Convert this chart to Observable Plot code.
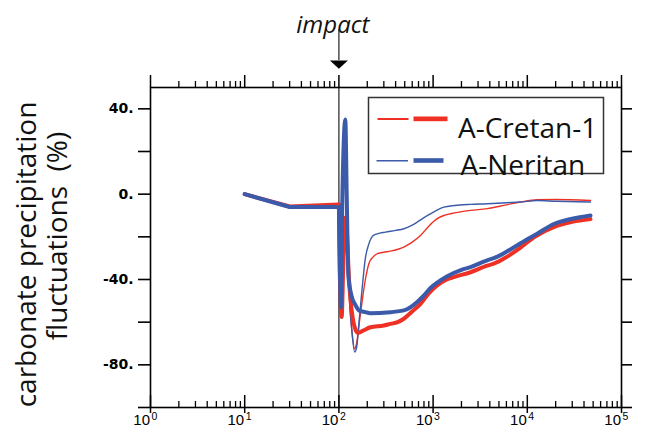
<!DOCTYPE html>
<html><head><meta charset="utf-8">
<script src="https://cdn.jsdelivr.net/npm/d3@7"></script>
<script src="https://cdn.jsdelivr.net/npm/@observablehq/plot@0.6"></script>
<style>body{margin:0;background:#fff}</style>
</head><body><div id="chart"></div>
<script>
// ---- data (time after start, log axis; carbonate precipitation fluctuation %) ----
const seriesNames = ["A-Cretan-1", "A-Neritan"];
const seriesColors = ["#ee3124", "#3b5aa9"];
const impactTime = 100;

const cretanThinT = [10,30,100,102,107,111,116,120,128,138,147,154,165,177,191,208,230,260,300,353,489,600,735,900,1106,1300,1531,2500,3753,6000,8470,12740,20000,46900];
const cretanThinV = [0,-5.8,-4.8,-35,-55,-35,-11,-15,-45,-65,-72.5,-70,-60,-49.8,-40,-32.6,-29.5,-27.8,-27.2,-26.7,-24.8,-22.5,-19.4,-15,-11.5,-10,-9.2,-7.6,-6.8,-5,-3.7,-2.6,-2.5,-3];

const cretanThickT = [10,30,100,102,107,111,116,120,128,140,150,160,180,216,300,353,420,489,600,735,900,1106,1400,1660,2495,3753,4409,6000,8470,12000,19100,30000,46900];
const cretanThickV = [0,-5.8,-4.8,-35,-57.6,-35,-11,-14,-40,-58,-63.5,-65,-64,-62.4,-61.6,-60.8,-60,-58.4,-55,-51.4,-46.5,-42.8,-40,-38.9,-36.6,-33.5,-32.6,-29.5,-25,-20,-15.5,-13,-11.7];

const neritanThinT = [10,30,100,102,106,110,117,121,127,138,147,154,165,177,191,208,230,255,312,400,489,600,678,800,938,1100,1300,1700,2495,3753,6000,8470,12740,20000,46900];
const neritanThinV = [0,-6,-6,-30,-52,0,33,0,-40,-65,-74,-72,-58,-43.6,-30,-23.3,-19.5,-18.6,-17.8,-17,-16.2,-14.5,-13.1,-11,-9.2,-7.5,-6.1,-5.3,-4.8,-4.5,-4,-3.7,-3,-3.3,-3.7];

const neritanThickT = [10,30,100,102,105,109,117,121,126,135,150,163,191,216,353,489,575,678,800,938,1106,1413,2000,2495,3753,4409,6000,8470,12740,19100,30000,46900];
const neritanThickV = [0,-6,-6,-30,-53,0,35,0,-38,-47,-52,-54.5,-55.3,-55.8,-55.3,-54.5,-53,-50.5,-47.5,-44,-41.5,-38.5,-35.5,-34.2,-31,-30,-27,-23,-18.5,-14,-11.5,-10];

// ---- axis definitions ----
const xDecades = [0,1,2,3,4,5];
const yTicks = [-100,-80,-60,-40,-20,0,20,40];
const yTickLabels = [40,0,-40,-80];
const yTitleLines = ["carbonate precipitation", "fluctuations\u00a0 (%)"];
const annotation = "impact";

// ---- build tables ----
const curves = [
  {name: seriesNames[0], color: seriesColors[0], w: 1.4, t: cretanThinT, v: cretanThinV},
  {name: seriesNames[1], color: seriesColors[1], w: 1.4, t: neritanThinT, v: neritanThinV},
  {name: seriesNames[0], color: seriesColors[0], w: 4, t: cretanThickT, v: cretanThickV},
  {name: seriesNames[1], color: seriesColors[1], w: 4, t: neritanThickT, v: neritanThickV}
];
const rows = c => c.t.map((t, i) => ({t, v: c.v[i]}));
const majors = xDecades.map(e => 10 ** e);
const minors = xDecades.slice(0, -1).flatMap(e => d3.range(2, 10).map(k => k * 10 ** e));

const W = 646, H = 443, ML = 150, MR = 25, MT = 87, MB = 36;
const FW = W - ML - MR, FH = H - MT - MB;

const wideTriangle = {draw(ctx) { ctx.moveTo(-9, -4); ctx.lineTo(9, -4); ctx.lineTo(0, 4.3); ctx.closePath(); }};

const sans = "'Open Sans', 'Noto Sans', sans-serif";
const narrow = "'Liberation Sans Narrow', 'Liberation Sans', Arial, sans-serif";

const marks = [
  Plot.frame({fill: "white"}),
  // impact line
  Plot.ruleX([impactTime], {stroke: "#222", strokeWidth: 1.2}),
  // data lines: straight segments before impact, smooth after
  ...curves.map(c => Plot.line(rows(c).filter(d => d.t <= impactTime), {
    x: "t", y: "v", stroke: c.color, strokeWidth: c.w, curve: "linear", strokeLinejoin: "round", strokeLinecap: "round"
  })),
  ...curves.map(c => Plot.line(rows(c).filter(d => d.t >= impactTime), {
    x: "t", y: "v", stroke: c.color, strokeWidth: c.w, curve: "monotone-x", strokeLinejoin: "round"
  })),
  Plot.frame({stroke: "black", strokeWidth: 1.6}),
  // top ticks (outward)
  Plot.tickX(majors, {x: d => d, insetTop: -12, insetBottom: FH, stroke: "black", strokeWidth: 1.5}),
  Plot.tickX(minors, {x: d => d, insetTop: -6, insetBottom: FH, stroke: "black", strokeWidth: 1.3}),
  // bottom ticks
  Plot.tickX(majors, {x: d => d, insetTop: FH - 12, insetBottom: -6, stroke: "black", strokeWidth: 1.5}),
  Plot.tickX(minors, {x: d => d, insetTop: FH - 6, insetBottom: 0, stroke: "black", strokeWidth: 1.3}),
  // left / right ticks
  Plot.tickY(yTicks, {y: d => d, insetLeft: -12, insetRight: FW, stroke: "black", strokeWidth: 1.6}),
  Plot.tickY(yTicks, {y: d => d, insetLeft: FW, insetRight: -11, stroke: "black", strokeWidth: 1.6}),
  // y tick labels
  Plot.text(yTickLabels, {y: d => d, text: d => d + ".", frameAnchor: "left", textAnchor: "end", dx: -17,
    fontFamily: "'DejaVu Sans', sans-serif", fontWeight: "bold", fontSize: 14, fill: "black"}),
  // x tick labels 10^n
  Plot.text(xDecades, {x: d => 10 ** d, text: () => "10", frameAnchor: "bottom", textAnchor: "end", dx: -0.5, dy: 17,
    fontFamily: narrow, fontSize: 15, fill: "black"}),
  Plot.text(xDecades, {x: d => 10 ** d, text: d => String(d), frameAnchor: "bottom", textAnchor: "start", dx: 1, dy: 12.5,
    fontFamily: narrow, fontSize: 10.5, fill: "black"}),
  // y title
  Plot.text([yTitleLines[0]], {text: d => d, frameAnchor: "left", textAnchor: "middle", rotate: -90, dx: -123, dy: 7,
    fontFamily: sans, fontSize: 28, fill: "#111"}),
  Plot.text([yTitleLines[1]], {text: d => d, frameAnchor: "left", textAnchor: "middle", rotate: -90, dx: -92, dy: -11.5,
    fontFamily: sans, fontSize: 28, fill: "#111"}),
  // impact annotation
  Plot.text([impactTime], {x: d => d, text: () => annotation, frameAnchor: "top", dy: -72, dx: -6,
    fontFamily: sans, fontStyle: "italic", fontSize: 24, fill: "#111"}),
  Plot.ruleX([impactTime], {insetTop: -58, insetBottom: FH + 27, stroke: "#222", strokeWidth: 1.2}),
  Plot.dot([impactTime], {x: d => d, frameAnchor: "top", dy: -23, symbol: wideTriangle, fill: "black", stroke: null}),
  // legend box
  Plot.frame({fill: "white", stroke: "#333", strokeWidth: 1.5, insetLeft: 218, insetRight: 18, insetTop: 10, insetBottom: 234}),
  Plot.frame({fill: seriesColors[0], insetLeft: 227, insetRight: 213, insetTop: 30.5, insetBottom: 287.5}),
  Plot.frame({fill: seriesColors[0], insetLeft: 263, insetRight: 174, insetTop: 29, insetBottom: 286.3}),
  Plot.frame({fill: seriesColors[1], insetLeft: 226, insetRight: 213.5, insetTop: 72.5, insetBottom: 246}),
  Plot.frame({fill: seriesColors[1], insetLeft: 263, insetRight: 178, insetTop: 70.7, insetBottom: 244.7}),
  Plot.text([seriesNames[0]], {text: d => d, frameAnchor: "top-left", textAnchor: "start", dx: 307.5, dy: 31,
    fontFamily: sans, fontSize: 28, fill: "#111"}),
  Plot.text([seriesNames[1]], {text: d => d, frameAnchor: "top-left", textAnchor: "start", dx: 310, dy: 68,
    fontFamily: sans, fontSize: 28, fill: "#111"})
];

const chart = Plot.plot({
  width: W, height: H,
  marginLeft: ML, marginRight: MR, marginTop: MT, marginBottom: MB,
  style: {background: "white", fontFamily: sans, overflow: "visible"},
  x: {type: "log", domain: [1, 1e5], axis: null},
  y: {domain: [-100, 50], axis: null},
  marks
});
document.getElementById("chart").append(chart);
</script>
</body></html>
